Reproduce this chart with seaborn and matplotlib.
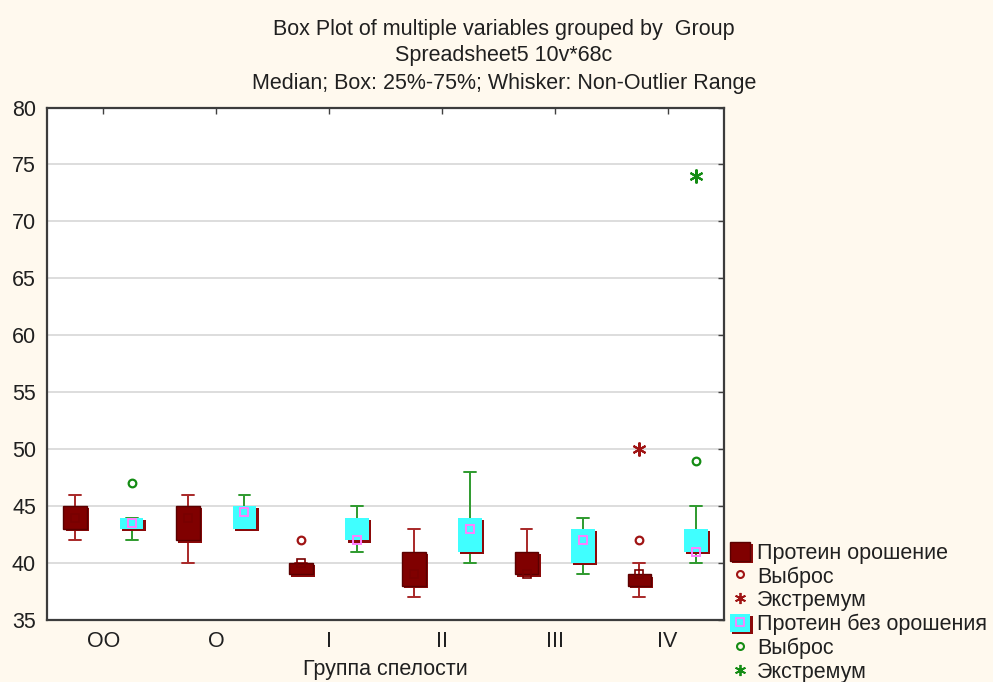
import numpy as np
import pandas as pd
import matplotlib
matplotlib.use("Agg")
import matplotlib.pyplot as plt
import seaborn as sns
from matplotlib import patheffects as pe
from matplotlib.lines import Line2D
from matplotlib.patches import Patch

# ---------------- data ----------------
groups = ["OO", "O", "I", "II", "III", "IV"]
series = ["Протеин орошение", "Протеин без орошения"]

# five-number summaries: lower whisker, Q1, median, Q3, upper whisker
irr_low = [42, 40, 39, 37, 39, 37]
irr_q1 = [43, 42, 39, 38, 39, 38]
irr_med = [44, 44, 40, 39, 39, 39]
irr_q3 = [45, 45, 40, 41, 41, 39]
irr_high = [46, 46, 40, 43, 43, 40]

dry_low = [42, 43, 41, 40, 39, 40]
dry_q1 = [43, 43, 42, 41, 40, 41]
dry_med = [43.5, 44.5, 42, 43, 42, 41]
dry_q3 = [44, 45, 44, 44, 43, 43]
dry_high = [44, 46, 45, 48, 44, 45]

# outliers and extremes
irr_out_groups = ["I", "IV"]
irr_out_vals = [42, 42]
irr_ext_groups = ["IV"]
irr_ext_vals = [50]
dry_out_groups = ["OO", "IV"]
dry_out_vals = [47, 49]
dry_ext_groups = ["IV"]
dry_ext_vals = [74]

y_ticks = [35, 40, 45, 50, 55, 60, 65, 70, 75, 80]
title_lines = ["Box Plot of multiple variables grouped by  Group",
               "Spreadsheet5 10v*68c",
               "Median; Box: 25%-75%; Whisker: Non-Outlier Range"]
x_label = "Группа спелости"
out_label = "Выброс"
ext_label = "Экстремум"

# ---------------- styling ----------------
BG = "#FFF9EE"
DARK = "#800000"
DARK_EDGE = "#5A0000"
CYAN = "#40FFFF"
RED_W = "#A82828"
GREEN_W = "#2E9A2E"
RED_O = "#A01414"
GREEN_O = "#148C14"
PINK = "#FF80FF"
SHADOW = "#8B0A0A"
FS = 15.5

sns.set_style("white")
plt.rcParams["font.family"] = ["Liberation Sans", "DejaVu Sans"]

rows = []
for name, lo, q1, md, q3, hi in [(series[0], irr_low, irr_q1, irr_med, irr_q3, irr_high),
                                 (series[1], dry_low, dry_q1, dry_med, dry_q3, dry_high)]:
    for g, a, b, c, d, e in zip(groups, lo, q1, md, q3, hi):
        for v in (a, b, c, d, e):
            rows.append({"group": g, "series": name, "value": v})
df = pd.DataFrame(rows)

W, H = 993, 682
fig = plt.figure(figsize=(W / 100, H / 100), dpi=100, facecolor=BG)
ax = fig.add_axes([47 / W, 1 - 620 / H, (724 - 47) / W, (620 - 107.5) / H])
ax.set_facecolor("white")

sns.boxplot(data=df, x="group", y="value", hue="series", order=groups,
            hue_order=series, palette=[DARK, CYAN], saturation=1,
            width=1.0, gap=0.58, whis=(0, 100), showfliers=False,
            linewidth=1.4, medianprops={"visible": False},
            legend=False, ax=ax)

shadow = [pe.SimplePatchShadow(offset=(1.6, -1.6), shadow_rgbFace=SHADOW, alpha=1),
          pe.Normal()]
for p in ax.patches:
    fc = p.get_facecolor()
    if fc[2] > 0.5:  # cyan box
        p.set_edgecolor("none")
    else:
        p.set_edgecolor(DARK_EDGE)
        p.set_linewidth(1.0)
    p.set_path_effects(shadow)
    p.set_zorder(2)

for ln in ax.lines:
    xm = np.mean(ln.get_xdata())
    ln.set_color(RED_W if xm - round(xm) < 0 else GREEN_W)
    ln.set_linewidth(1.4)
    ln.set_zorder(1.5)

off = [-0.25, 0.25]
xpos = np.arange(len(groups))
ax.plot(xpos + off[0], irr_med, ls="none", marker="s", ms=6, mfc="none",
        mec="#780000", mew=1.2, zorder=3)
ax.plot(xpos + off[1], dry_med, ls="none", marker="s", ms=6, mfc="none",
        mec=PINK, mew=1.4, zorder=3)


def gx(glist, o):
    return [groups.index(g) + o for g in glist]


ax.plot(gx(irr_out_groups, off[0]), irr_out_vals, ls="none", marker="o", ms=5.5,
        mfc="none", mec=RED_O, mew=1.6, zorder=3)
ax.plot(gx(dry_out_groups, off[1]), dry_out_vals, ls="none", marker="o", ms=5.5,
        mfc="none", mec=GREEN_O, mew=1.6, zorder=3)
ax.plot(gx(irr_ext_groups, off[0]), irr_ext_vals, ls="none", marker=(6, 2, 0), ms=10,
        color=RED_O, mew=1.5, zorder=3)
ax.plot(gx(dry_ext_groups, off[1]), dry_ext_vals, ls="none", marker=(6, 2, 0), ms=10,
        color=GREEN_O, mew=1.5, zorder=3)

ax.set_xlim(-0.5, len(groups) - 0.5)
ax.set_ylim(y_ticks[0], y_ticks[-1])
ax.set_yticks(y_ticks)
ax.set_xticks(xpos)
ax.set_xticklabels(groups)
ax.yaxis.grid(True, color="#DADADA", lw=1.3)
ax.xaxis.grid(False)
ax.set_axisbelow(True)
ax.tick_params(direction="in", length=4, width=1, top=True, right=True,
               labelsize=FS, pad=8, color="#404040", labelcolor="#202020")
for s in ax.spines.values():
    s.set_color("#3C3C3C")
    s.set_linewidth(1.6)
ax.set_ylabel("")
ax.set_xlabel(x_label, fontsize=FS, color="#202020", labelpad=5)

for txt, yc in zip(title_lines, [30, 55, 83]):
    fig.text(504 / W, 1 - yc / H, txt, ha="center", va="center", fontsize=FS,
             color="#202020")

h_irr = Patch(facecolor=DARK, edgecolor=DARK_EDGE, lw=1.0, path_effects=shadow)
h_dry = (Patch(facecolor=CYAN, edgecolor="none", path_effects=shadow),
         Line2D([], [], ls="none", marker="s", ms=6, mfc="none", mec=PINK, mew=1.3))
handles = [h_irr,
           Line2D([], [], ls="none", marker="o", ms=5, mfc="none", mec=RED_O, mew=1.5),
           Line2D([], [], ls="none", marker=(6, 2, 0), ms=8, color=RED_O, mew=1.3),
           h_dry,
           Line2D([], [], ls="none", marker="o", ms=5, mfc="none", mec=GREEN_O, mew=1.5),
           Line2D([], [], ls="none", marker=(6, 2, 0), ms=8, color=GREEN_O, mew=1.3)]
labels = [series[0], out_label, ext_label, series[1], out_label, ext_label]
fig.legend(handles, labels, loc="upper left", bbox_to_anchor=(730 / W, 1 - 542 / H),
           frameon=False, fontsize=FS, handlelength=0.95, handleheight=0.95,
           labelspacing=0.1, handletextpad=0.3, borderpad=0, borderaxespad=0,
           labelcolor="#202020")

fig.savefig("out.png", dpi=100, facecolor=BG)
